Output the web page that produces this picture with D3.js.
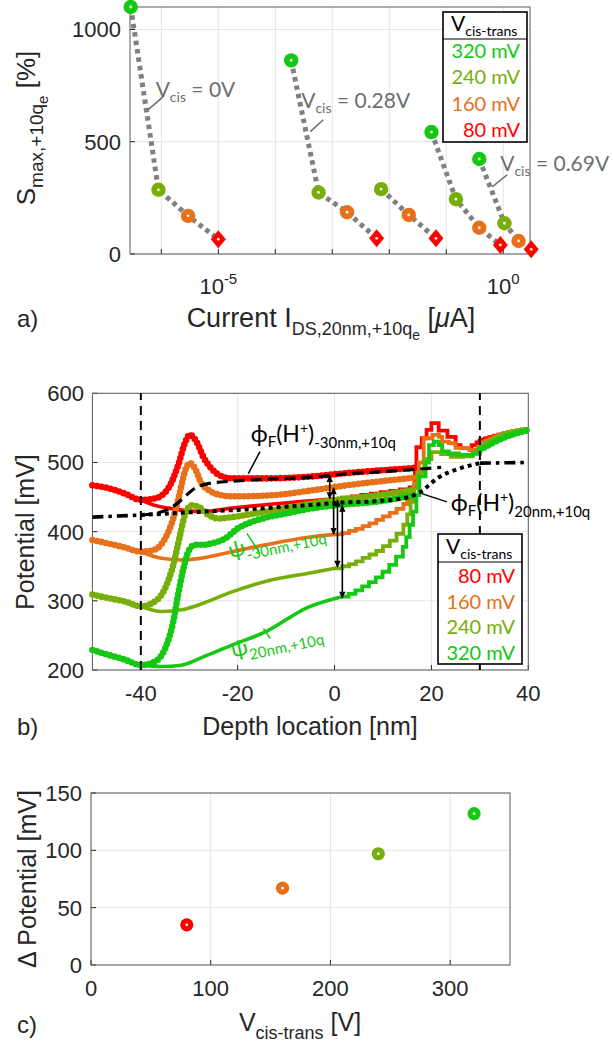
<!DOCTYPE html>
<html>
<head>
<meta charset="utf-8">
<script src="https://cdn.jsdelivr.net/npm/d3@7"></script>
<style>
  body { margin: 0; background: #fff; }
  svg { display: block; }
  text { white-space: pre; }
</style>
</head>
<body>
<svg id="fig" width="613" height="1046"></svg>
<script>
// ---------- data ----------
// colours per cis-trans voltage
const voltageLabels = ["80 mV", "160 mV", "240 mV", "320 mV"];
const voltageColors = ["#ff0000", "#e8701a", "#78ae0a", "#14c814"];

// panel a : five sweeps, points ordered 320, 240, 160, 80 mV  (null = not shown)
const sweepCurrent = [
  [2.9e-7, 8.9e-7, 2.95e-6, 1.0e-5],
  [1.9e-4, 5.75e-4, 1.82e-3, 6.0e-3],
  [null, 7.2e-3, 2.2e-2, 6.6e-2],
  [5.5e-2, 0.148, 0.38, 0.89],
  [0.38, 1.05, 1.86, 3.1]
];
const sweepSmax = [
  [1100, 286, 170, 66],
  [862, 274, 186, 70],
  [null, 289, 174, 70],
  [543, 244, 117, 40],
  [423, 137, 58, 21]
];
const aYTicks = [0, 500, 1000];
const aXDecades = [-6, -5, -4, -3, -2, -1, 0];
const aXLabelled = [-5, 0];

// panel b : potential along depth [nm, mV]
// psi at -30 nm (thick dotted curves)
const psiNeg30_80 = [[-50,467],[-46.8,463],[-43.3,455],[-40,446],[-37.1,448],[-34.3,463],[-32.3,496],[-30.9,528],[-29.9,540],[-28.5,530],[-27.1,508],[-25.4,491],[-23.3,480],[-21.2,477],[-14.3,477],[-4.3,480],[1.5,484],[8.4,488],[16.5,492]];
const psiNeg30_160 = [[-50,388],[-46.8,383],[-43.3,377],[-40,371],[-37.1,374],[-35,390],[-33.3,419],[-31.9,458],[-30.9,487],[-29.9,499],[-28.8,491],[-27.5,470],[-26,460],[-24.7,455],[-21.2,451],[-14.3,452],[-4.3,460],[1.5,466],[8.4,472],[16.5,478]];
const psiNeg30_240 = [[-50,309],[-46.8,304],[-43.3,299],[-40,292],[-37.1,299],[-35,318],[-33.3,352],[-31.9,395],[-30.9,424],[-29.5,438],[-28.1,436],[-26,424],[-24,419],[-21.2,421],[-14.3,429],[-4.3,441],[1.5,447],[8.4,452],[16.7,461]];
const psiNeg30_320 = [[-50,229],[-46.8,222],[-43.3,215],[-40,207],[-37.1,212],[-35,231],[-33.3,270],[-32.3,309],[-31.2,347],[-30.2,371],[-28.8,381],[-27.1,381],[-25.4,383],[-22.6,390],[-19.9,405],[-17.1,414],[-14.3,420],[-10.2,426],[-4.3,434],[1.5,439],[8.4,443],[16.7,453]];
const psiTail_80 = [[30.2,531],[34.7,540],[40,547]];
const psiTail_160 = [[30.5,527],[34.7,540],[40,547]];
const psiTail_240 = [[30,520],[34.7,539],[40,547]];
const psiTail_320 = [[30,518],[34.7,535],[40,547]];

// psi at 20 nm (thin curves), smooth part then staircase part
const psi20_80 = [[-40,446],[-37.1,438],[-34.3,434],[-30.2,430],[-27.1,429],[-21.2,434],[-14.3,439],[-4.3,445],[-0.5,447]];
const psi20_160 = [[-40,371],[-35.7,361.5],[-31.6,359],[-28.1,361],[-21.2,371],[-14.3,381],[-5.4,392],[0.2,396]];
const psi20_240 = [[-40,292],[-35.7,284.5],[-31.6,287],[-28.1,294],[-21.2,313],[-14.3,328],[-5.4,340],[0.2,347]];
const psi20_320 = [[-40,207],[-35.7,205],[-31.6,207],[-27.1,219],[-21.2,236],[-14.3,255],[-5.4,291],[1.5,306]];
const psi20Stair_80 = [[-0.5,447],[1.5,449],[3.5,451],[5.5,453],[7.5,455],[9.5,457],[11.5,459],[13.5,461],[15.5,464],[16.6,494],[16.9,522],[18,535],[19,547],[20,557],[21.5,546],[23.3,537],[25,525],[26,521],[28.3,525],[29.3,529],[30.2,531]];
const psi20Stair_160 = [[0.2,396],[1.6,398],[3,401],[4.4,404],[5.8,408],[7.2,412],[8.6,417],[10,422],[11.4,427],[12.8,433],[14.2,440],[15,447],[15.7,455],[16.4,470],[17.4,500],[18.4,535],[20.2,540],[21.6,537],[22.2,530],[23.6,528],[25,521],[27.8,518],[29.5,522],[30.5,527]];
const psi20Stair_240 = [[0.2,347],[1.6,350],[3,353],[4.4,357],[5.8,362],[7.2,367],[8.6,372],[10,379],[11.4,387],[12.8,397],[14.2,410],[15,425],[15.7,443],[16.4,463],[17.1,485],[18.5,505],[20,515],[22,512],[24,508],[26.5,509],[28.5,513],[30,520]];
const psi20Stair_320 = [[1.5,306],[2.9,310],[4.3,315],[5.7,321],[7.1,327],[8.5,334],[9.9,342],[11.3,352],[12.7,364],[14.1,378],[14.8,392],[15.5,410],[16.2,429],[16.9,453],[17.5,480],[18.8,500],[19.5,525],[20.5,530],[21.5,525],[22.2,516],[23.6,513],[25.7,511],[28.5,513],[30,518]];

const phiNeg30 = [[-40,424],[-36,428],[-33,438],[-31,450],[-29,462],[-27,468],[-24.7,471],[-21,473],[-14,476],[-4,479],[1.5,483],[8.4,486],[16.7,490],[22,493]];
const phi20 = [[-40,424],[-33.7,426.5],[-27.1,429],[-21.2,431],[-14.3,434],[-4.3,439],[1.5,442],[8.4,444],[15.3,450],[17.4,456],[21.6,479],[25.7,491],[30,499]];
const phiBulkLeft = [[-50,421],[-40,424]];
const phiBulkRight = [[30,499],[40,500]];
const boundaryX = [-40, 30];
const arrowX = [-1.0, -0.2, 0.6, 1.6];
const arrowTop = [481, 463, 446, 438];
const arrowBottom = [448, 396, 349, 304];
const bXTicks = [-40, -20, 0, 20, 40];
const bYTicks = [200, 300, 400, 500, 600];

// panel c
const cisTrans = [80, 160, 240, 320];
const deltaPotential = [35, 67, 97, 132];
const cXTicks = [0, 100, 200, 300];
const cYTicks = [0, 50, 100, 150];

// ---------- helpers ----------
const svg = d3.select("#fig");
svg.append("rect").attr("width", 613).attr("height", 1046).attr("fill", "#fff");

const armFont = "'Liberation Sans', Arial, sans-serif";
const gillFont = "Lato, 'Open Sans', sans-serif";
const ink = "#262626";
const gridCol = "#e4e4e4";

const defs = svg.append("defs");
defs.append("marker")
    .attr("id", "head")
    .attr("viewBox", "0 0 10 10")
    .attr("refX", 9).attr("refY", 5)
    .attr("markerWidth", 8).attr("markerHeight", 7)
    .attr("markerUnits", "userSpaceOnUse")
    .attr("orient", "auto-start-reverse")
  .append("path").attr("d", "M0,0.5 L10,5 L0,9.5 Z").attr("fill", "#000");

function rich(g, parts) {
  const t = g.append("text");
  parts.forEach(p => {
    t.append("tspan").text(p[0]).attr("font-size", p[1]).attr("dy", p[2] || 0)
     .attr("font-style", p[3] ? "italic" : null);
  });
  return t;
}

// grid + box + inward ticks
function frame(x, y, xGrid, yGrid) {
  const [x0, x1] = x.range();
  const [y0, y1] = y.range();
  const g = svg.append("g");
  g.selectAll(".gx").data(xGrid).join("line")
   .attr("x1", d => x(d)).attr("x2", d => x(d)).attr("y1", y0).attr("y2", y1)
   .attr("stroke", gridCol).attr("stroke-width", 1);
  g.selectAll(".gy").data(yGrid).join("line")
   .attr("y1", d => y(d)).attr("y2", d => y(d)).attr("x1", x0).attr("x2", x1)
   .attr("stroke", gridCol).attr("stroke-width", 1);
  g.selectAll(".tx").data(xGrid).join("line")
   .attr("x1", d => x(d)).attr("x2", d => x(d)).attr("y1", y0).attr("y2", y0 - 5)
   .attr("stroke", ink);
  g.selectAll(".ty").data(yGrid).join("line")
   .attr("y1", d => y(d)).attr("y2", d => y(d)).attr("x1", x0).attr("x2", x0 + 5)
   .attr("stroke", ink);
  g.append("rect").attr("x", x0).attr("y", y1).attr("width", x1 - x0).attr("height", y0 - y1)
   .attr("fill", "none").attr("stroke", "#5a5a5a").attr("stroke-width", 1);
  return g;
}

function yTickLabels(y, ticks, xRight) {
  svg.append("g").selectAll("text").data(ticks).join("text")
     .attr("x", xRight).attr("y", d => y(d)).attr("dy", "0.36em")
     .attr("text-anchor", "end").attr("font-family", armFont).attr("font-size", 22)
     .attr("fill", ink).text(d => d);
}
function xTickLabels(x, ticks, yBase) {
  svg.append("g").selectAll("text").data(ticks).join("text")
     .attr("x", d => x(d)).attr("y", yBase)
     .attr("text-anchor", "middle").attr("font-family", armFont).attr("font-size", 22)
     .attr("fill", ink).text(d => d);
}

function legend(x0, y0, w, h, lineY, labels, colors, baseline0, step) {
  const g = svg.append("g");
  g.append("rect").attr("x", x0).attr("y", y0).attr("width", w).attr("height", h)
   .attr("fill", "#fff").attr("stroke", "#000").attr("stroke-width", 1.6);
  g.append("line").attr("x1", x0).attr("x2", x0 + w).attr("y1", lineY).attr("y2", lineY)
   .attr("stroke", "#000").attr("stroke-width", 1.2);
  rich(g, [["V", 21], ["cis-trans", 14, 5]])
   .attr("x", x0 + 8).attr("y", lineY - 8).attr("font-family", gillFont).attr("fill", "#000");
  g.selectAll(".entry").data(labels).join("text")
   .attr("x", x0 + w - 7).attr("y", (d, i) => baseline0 + i * step)
   .attr("text-anchor", "end").attr("font-family", gillFont).attr("font-size", 20)
   .attr("fill", (d, i) => colors[i]).text(d => d);
}

// ---------- panel a ----------
const xA = d3.scaleLog().domain([10 ** -6.55, 10 ** 0.47]).range([130, 530]);
const yA = d3.scaleLinear().domain([0, 1100]).range([254, 7]);
frame(xA, yA, aXDecades.map(e => 10 ** e), aYTicks);
yTickLabels(yA, aYTicks, 121);

const aLab = svg.append("g").attr("font-family", armFont).attr("fill", ink);
aXLabelled.forEach(e => {
  rich(aLab, [["10", 22], [String(e), 15, -10]])
    .attr("x", xA(10 ** e)).attr("y", 294).attr("text-anchor", "middle");
});

const sweepOrderColors = [voltageColors[3], voltageColors[2], voltageColors[1], voltageColors[0]];
const lineA = d3.line().x(d => xA(d[0])).y(d => yA(d[1]));
const gA = svg.append("g");
const sweepPts = sweepCurrent.map((cur, s) =>
  cur.map((c, i) => [c, sweepSmax[s][i], i]).filter(d => d[0] !== null));
sweepPts.forEach(pts => {
  gA.append("path").datum(pts)
    .attr("d", lineA).attr("fill", "none")
    .attr("stroke", "#808080").attr("stroke-width", 5).attr("stroke-dasharray", "4.5 4");
});
sweepPts.forEach(pts => {
  pts.forEach(d => {
    const cx = xA(d[0]), cy = yA(d[1]), col = sweepOrderColors[d[2]];
    if (d[2] === 3) {
      gA.append("path").attr("d", `M${cx},${cy - 9}L${cx + 7.5},${cy}L${cx},${cy + 9}L${cx - 7.5},${cy}Z`)
        .attr("fill", col);
    } else {
      gA.append("circle").attr("cx", cx).attr("cy", cy).attr("r", 7.2).attr("fill", col);
    }
    gA.append("circle").attr("cx", cx).attr("cy", cy).attr("r", 1.4).attr("fill", "#f2f2f2");
  });
});

// sweep annotations (data units)
const vcisNotes = [
  { text: "0V", at: [10 ** -6.1, 701], from: [10 ** -6.23, 643], to: [10 ** -5.97, 700] },
  { text: "0.28V", at: [10 ** -3.545, 652], from: [10 ** -3.386, 545], to: [10 ** -3.158, 598] },
  { text: "0.69V", at: [10 ** -0.053, 371], from: [10 ** -0.193, 299], to: [10 ** 0.07, 353] }
];
vcisNotes.forEach(n => {
  gA.append("line").attr("x1", xA(n.from[0])).attr("y1", yA(n.from[1]))
    .attr("x2", xA(n.to[0])).attr("y2", yA(n.to[1]))
    .attr("stroke", "#6e6e6e").attr("stroke-width", 1.5);
  rich(gA, [["V", 21], ["cis", 14, 5], [" = " + n.text, 21, -5]])
    .attr("x", xA(n.at[0])).attr("y", yA(n.at[1]))
    .attr("font-family", gillFont).attr("fill", "#6e6e6e");
});

legend(443, 12, 84, 130, 39, voltageLabels.slice().reverse(),
       voltageColors.slice().reverse(), 58, 26.3);

rich(svg.append("g"), [["S", 26], ["max,+10q", 19, 8], ["e", 15, 5], [" [%]", 26, -13]])
  .attr("transform", "translate(35,128) rotate(-90)")
  .attr("text-anchor", "middle").attr("font-family", armFont).attr("fill", ink);
rich(svg.append("g"), [["Current I", 27], ["DS,20nm,+10q", 18, 8], ["e", 14, 5], [" [", 27, -13], ["\u03bc", 27, 0, true], ["A]", 27]])
  .attr("x", 331).attr("y", 327)
  .attr("text-anchor", "middle").attr("font-family", armFont).attr("fill", ink);
svg.append("text").attr("x", 17).attr("y", 327).attr("font-family", armFont)
   .attr("font-size", 24).attr("fill", ink).text("a)");

// ---------- panel b ----------
const xB = d3.scaleLinear().domain([-50, 40]).range([92.4, 528.3]);
const yB = d3.scaleLinear().domain([200, 600]).range([670, 393.3]);
frame(xB, yB, bXTicks, bYTicks);
yTickLabels(yB, bYTicks, 84);
xTickLabels(xB, bXTicks, 701);

const lineB = d3.line().x(d => xB(d[0])).y(d => yB(d[1])).curve(d3.curveMonotoneX);
const stairB = d3.line().x(d => xB(d[0])).y(d => yB(d[1])).curve(d3.curveStepAfter);
const gB = svg.append("g");

const psiNeg30 = [psiNeg30_80, psiNeg30_160, psiNeg30_240, psiNeg30_320];
const psiTail = [psiTail_80, psiTail_160, psiTail_240, psiTail_320];
const psi20 = [psi20_80, psi20_160, psi20_240, psi20_320];
const psi20Stair = [psi20Stair_80, psi20Stair_160, psi20Stair_240, psi20Stair_320];

function beaded(data, col) {
  gB.append("path").datum(data).attr("d", lineB).attr("fill", "none")
    .attr("stroke", col).attr("stroke-width", 4.6).attr("stroke-linejoin", "round");
  gB.append("path").datum(data).attr("d", lineB).attr("fill", "none")
    .attr("stroke", col).attr("stroke-width", 6.6).attr("stroke-linecap", "round")
    .attr("stroke-dasharray", "0 4.6");
}
voltageColors.forEach((col, i) => {
  gB.append("path").datum(psi20[i]).attr("d", lineB).attr("fill", "none")
    .attr("stroke", col).attr("stroke-width", 3.6).attr("stroke-linecap", "round");
  gB.append("path").datum(psi20Stair[i]).attr("d", stairB).attr("fill", "none")
    .attr("stroke", col).attr("stroke-width", 3.8).attr("stroke-linejoin", "miter");
  beaded(psiNeg30[i], col);
  beaded(psiTail[i], col);
});

// interface boundaries
gB.selectAll(".bnd").data(boundaryX).join("line")
  .attr("x1", d => xB(d)).attr("x2", d => xB(d)).attr("y1", yB(200)).attr("y2", yB(600))
  .attr("stroke", "#000").attr("stroke-width", 2).attr("stroke-dasharray", "9 6");

// Fermi levels
gB.append("path").datum(phiNeg30).attr("d", lineB).attr("fill", "none")
  .attr("stroke", "#000").attr("stroke-width", 3.2).attr("stroke-dasharray", "11 6");
gB.append("path").datum(phi20).attr("d", lineB).attr("fill", "none")
  .attr("stroke", "#000").attr("stroke-width", 4).attr("stroke-dasharray", "4 4");
[phiBulkLeft, phiBulkRight].forEach(seg => {
  gB.append("path").datum(seg).attr("d", lineB).attr("fill", "none")
    .attr("stroke", "#000").attr("stroke-width", 3.6).attr("stroke-dasharray", "11 5 3.5 5");
});

// difference arrows
arrowX.forEach((ax, i) => {
  gB.append("line")
    .attr("x1", xB(ax)).attr("x2", xB(ax))
    .attr("y1", yB(arrowTop[i])).attr("y2", yB(arrowBottom[i]))
    .attr("stroke", "#000").attr("stroke-width", 1.6)
    .attr("marker-start", "url(#head)").attr("marker-end", "url(#head)");
});

// annotations (data units)
const noteB = svg.append("g").attr("font-family", gillFont);
noteB.append("line").attr("x1", xB(-17.8)).attr("y1", yB(484)).attr("x2", xB(-15.4)).attr("y2", yB(515.6))
     .attr("stroke", "#000").attr("stroke-width", 1.5);
rich(noteB, [["\u03d5", 23], ["F", 15, 5], ["(H", 23, -5], ["+", 14, -9], [")", 23, 9], ["-30nm,+10q", 15, 6]])
  .attr("x", xB(-17.3)).attr("y", yB(530)).attr("fill", "#000");
noteB.append("line").attr("x1", xB(18)).attr("y1", yB(455)).attr("x2", xB(23.2)).attr("y2", yB(443))
     .attr("stroke", "#000").attr("stroke-width", 1.5);
rich(noteB, [["\u03d5", 23], ["F", 15, 5], ["(H", 23, -5], ["+", 14, -9], [")", 23, 9], ["20nm,+10q", 15, 6]])
  .attr("x", xB(24.0)).attr("y", yB(430)).attr("fill", "#000");

noteB.append("line").attr("x1", xB(-18.1)).attr("y1", yB(397.6)).attr("x2", xB(-15.4)).attr("y2", yB(368.7))
     .attr("stroke", voltageColors[3]).attr("stroke-width", 1.5);
rich(noteB, [["\u03c8", 22], ["-30nm,+10q", 15, 6]])
  .attr("transform", `translate(${xB(-21.6)},${yB(362)}) rotate(-12)`).attr("fill", voltageColors[3]);
noteB.append("line").attr("x1", xB(-14.7)).attr("y1", yB(260)).attr("x2", xB(-13.3)).attr("y2", yB(245.8))
     .attr("stroke", voltageColors[3]).attr("stroke-width", 1.5);
rich(noteB, [["\u03c8", 22], ["20nm,+10q", 15, 6]])
  .attr("transform", `translate(${xB(-21.0)},${yB(218)}) rotate(-12)`).attr("fill", voltageColors[3]);

legend(438, 534, 84, 130, 562, voltageLabels, voltageColors, 583, 25.6);

svg.append("text").attr("transform", "translate(34,532) rotate(-90)")
   .attr("text-anchor", "middle").attr("font-family", armFont).attr("font-size", 25)
   .attr("fill", ink).text("Potential [mV]");
svg.append("text").attr("x", 310).attr("y", 735)
   .attr("text-anchor", "middle").attr("font-family", armFont).attr("font-size", 25)
   .attr("fill", ink).text("Depth location [nm]");
svg.append("text").attr("x", 17).attr("y", 735).attr("font-family", armFont)
   .attr("font-size", 24).attr("fill", ink).text("b)");

// ---------- panel c ----------
const xC = d3.scaleLinear().domain([0, 350]).range([91, 510]);
const yC = d3.scaleLinear().domain([0, 150]).range([965, 793]);
frame(xC, yC, cXTicks, cYTicks);
yTickLabels(yC, cYTicks, 82);
xTickLabels(xC, cXTicks, 996);

const gC = svg.append("g");
cisTrans.forEach((v, i) => {
  gC.append("circle").attr("cx", xC(v)).attr("cy", yC(deltaPotential[i])).attr("r", 6.6)
    .attr("fill", voltageColors[i]);
  gC.append("circle").attr("cx", xC(v)).attr("cy", yC(deltaPotential[i])).attr("r", 1.4)
    .attr("fill", "#fff");
});

svg.append("text").attr("transform", "translate(36,879) rotate(-90)")
   .attr("text-anchor", "middle").attr("font-family", armFont).attr("font-size", 25)
   .attr("fill", ink).text("\u0394 Potential [mV]");
rich(svg.append("g"), [["V", 25], ["cis-trans", 18, 8], [" [V]", 25, -8]])
  .attr("x", 300).attr("y", 1031)
  .attr("text-anchor", "middle").attr("font-family", armFont).attr("fill", ink);
svg.append("text").attr("x", 17).attr("y", 1033).attr("font-family", armFont)
   .attr("font-size", 24).attr("fill", ink).text("c)");
</script>
</body>
</html>
